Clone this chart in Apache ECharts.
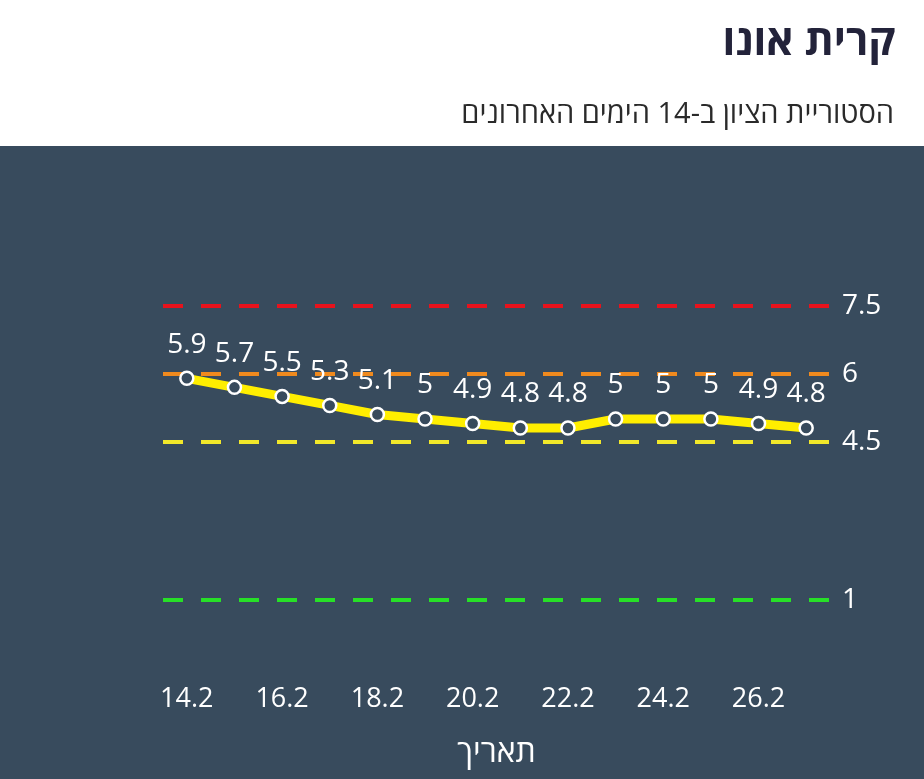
<!DOCTYPE html>
<html><head><meta charset="utf-8">
<script src="https://cdn.jsdelivr.net/npm/echarts@6/dist/echarts.min.js"></script>
<style>html,body{margin:0;padding:0;background:#fff}#c{width:924px;height:779px}</style>
</head><body><div id="c"></div>
<script>
const titleText = 'קרית אונו';
const subtitleText = 'הסטוריית הציון ב-14 הימים האחרונים';
const axisName = 'תאריך';
const categories = ['14.2','15.2','16.2','17.2','18.2','19.2','20.2','21.2','22.2','23.2','24.2','25.2','26.2','27.2'];
const values = [5.9,5.7,5.5,5.3,5.1,5,4.9,4.8,4.8,5,5,5,4.9,4.8];
const thresholds = [7.5, 6, 4.5, 1];
const thresholdColors = ['#e8121c','#f08a1e','#f2e82a','#27e027'];
const FONT = '"Open Sans","Noto Sans",sans-serif';
const chart = echarts.init(document.getElementById('c'));
chart.setOption({
  backgroundColor:'#ffffff',
  animation:false,
  textStyle:{fontFamily:FONT},
  graphic:[{type:'rect',z:-10,shape:{x:0,y:146,width:924,height:633},style:{fill:'#384b5d'}}],
  title:[
    {text:titleText,right:24,top:17,textStyle:{fontFamily:FONT,fontSize:42,fontWeight:'bold',color:'#23233a'}},
    {text:subtitleText,right:25,top:95,textStyle:{fontFamily:FONT,fontSize:29,fontWeight:'normal',color:'#2a2a2a'}}
  ],
  grid:{left:163,right:94,top:193,bottom:134},
  xAxis:{type:'category',data:categories,boundaryGap:true,
    axisLine:{show:false},axisTick:{show:false},splitLine:{show:false},
    axisLabel:{interval:1,color:'#ffffff',fontSize:27,margin:41,fontFamily:FONT},
    name:axisName,nameLocation:'middle',nameGap:92,nameTextStyle:{color:'#ffffff',fontSize:32,fontFamily:FONT}},
  yAxis:{type:'value',min:0,max:10,show:false,splitLine:{show:false}},
  series:[{
    type:'line',data:values,z:5,
    lineStyle:{color:'#ffee00',width:9},
    symbol:'circle',symbolSize:13,
    itemStyle:{color:'#384b5d',borderColor:'#ffffff',borderWidth:2.5},
    label:{show:true,position:'top',distance:12,color:'#ffffff',fontSize:28,fontFamily:FONT},
    markLine:{silent:true,symbol:'none',z:3,
      label:{show:true,position:'end',distance:12,color:'#ffffff',fontSize:28,fontFamily:FONT,formatter:'{c}'},
      data:thresholds.map((v,i)=>({yAxis:v,lineStyle:{color:thresholdColors[i],width:4,type:[20,18]}}))
    }
  }]
});
</script></body></html>
